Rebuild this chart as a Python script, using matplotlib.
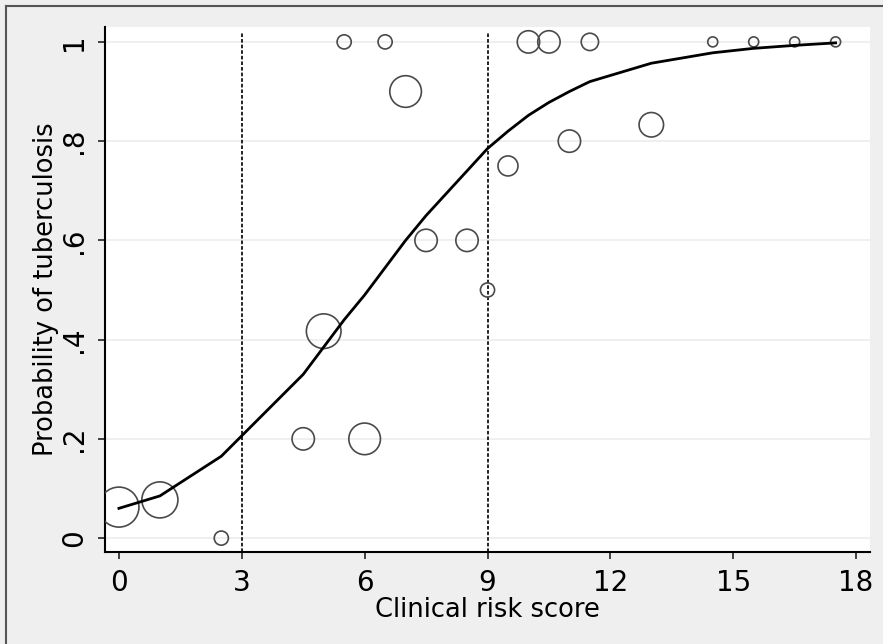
import numpy as np
import matplotlib
matplotlib.use("Agg")
import matplotlib.pyplot as plt
from matplotlib.lines import Line2D

# clinical risk score groups, observed proportion with TB, number of patients
score = [0, 1, 2.5, 4.5, 5, 5.5, 6, 6.5, 7, 7.5, 8.5, 9, 9.5, 10, 10.5, 11, 11.5, 13, 14.5, 15.5, 16.5, 17.5]
observed = [0.0625, 0.077, 0.0, 0.2, 0.417, 1.0, 0.2, 1.0, 0.9, 0.6, 0.6, 0.5, 0.75, 1.0, 1.0, 0.8, 1.0, 0.833, 1.0, 1.0, 1.0, 1.0]
n_patients = [16, 13, 2, 5, 12, 2, 10, 2, 10, 5, 5, 2, 4, 5, 5, 5, 3, 6, 1, 1, 1, 1]
# fitted probability (logistic model) at each score
fitted = [0.06, 0.085, 0.165, 0.33, 0.385, 0.44, 0.49, 0.545, 0.60, 0.65, 0.74, 0.785, 0.82, 0.852, 0.878, 0.90, 0.92, 0.957, 0.978, 0.987, 0.993, 0.998]

cutoffs = [3, 9]
xticks = [0, 3, 6, 9, 12, 15, 18]
yticks = [0, 0.2, 0.4, 0.6, 0.8, 1.0]
yticklabels = ["0", ".2", ".4", ".6", ".8", "1"]

W, H = 883, 644
fig = plt.figure(figsize=(W / 100, H / 100), dpi=100, facecolor="#efefef")
ax = fig.add_axes([105 / W, 1 - 552 / H, (870 - 105) / W, (552 - 27) / H])
ax.set_facecolor("white")

# faint grid like the stata scheme
for y in yticks:
    ax.axhline(y, color="#ececec", lw=1.2, zorder=0)

for c in cutoffs:
    ax.axvline(c, ymin=0, ymax=0.99, color="#111111", lw=1.3, ls=(0, (2.0, 1.1)), zorder=1)

# marker area proportional to number of patients
sizes = [51.84 * n for n in n_patients]
ax.scatter(score, observed, s=sizes, facecolors="none", edgecolors="#4a4a4a", linewidths=1.2, zorder=3)
ax.plot(score, fitted, color="black", lw=2.0, zorder=4)

ax.set_xlim(-0.34, 18.34)
ax.set_ylim(-0.028, 1.03)
ax.set_xticks(xticks)
ax.set_xticklabels([str(t) for t in xticks], fontsize=20)
ax.set_yticks(yticks)
ax.set_yticklabels(yticklabels, fontsize=20, rotation=90, va="center")

ax.spines["right"].set_visible(False)
ax.spines["top"].set_visible(False)
for s in ["left", "bottom"]:
    ax.spines[s].set_linewidth(1.5)
ax.tick_params(axis="both", direction="out", length=5, width=1.2, color="#222222")
ax.tick_params(axis="x", pad=7)
ax.tick_params(axis="y", pad=7)

ax.set_xlabel("Clinical risk score", fontsize=18.5, labelpad=0)
ax.set_ylabel("Probability of tuberculosis", fontsize=18.5, labelpad=1)

# thin frame of the graph region (left and top visible)
fx = 5.5 / W
fy = 1 - 5.5 / H
fig.add_artist(Line2D([fx, fx], [0, fy], transform=fig.transFigure, color="#555555", lw=1.5))
fig.add_artist(Line2D([fx, 1], [fy, fy], transform=fig.transFigure, color="#555555", lw=1.5))

fig.savefig("out.png", dpi=100, facecolor=fig.get_facecolor())
